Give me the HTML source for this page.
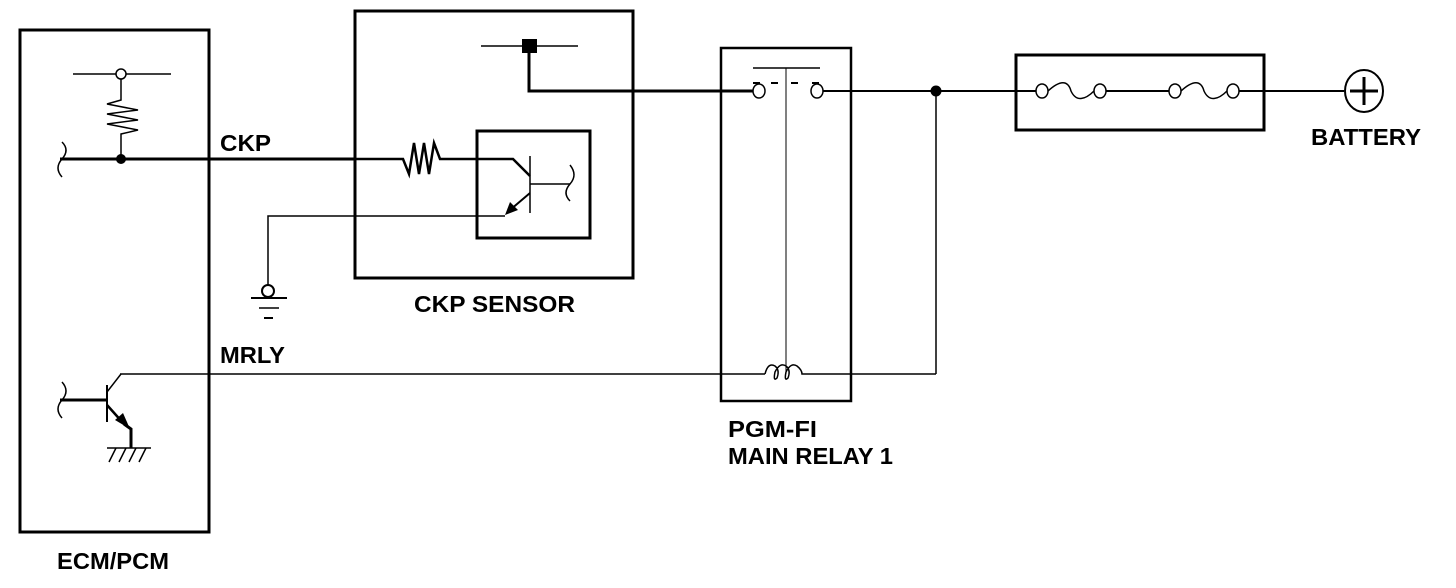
<!DOCTYPE html>
<html><head><meta charset="utf-8"><style>html,body{margin:0;padding:0;background:#fff}svg{display:block}text{font-family:"Liberation Sans",Arial,sans-serif;font-weight:bold;font-size:23px;fill:#000;stroke:none}</style></head>
<body>
<svg width="1456" height="588" viewBox="0 0 1456 588" xmlns="http://www.w3.org/2000/svg" fill="none" stroke="#000">
<!-- ECM box -->
<rect x="20" y="30" width="189" height="502" stroke-width="3"/>
<line x1="73" y1="74" x2="171" y2="74" stroke-width="1.5"/>
<circle cx="121" cy="74" r="5" fill="#fff" stroke-width="1.5"/>
<polyline points="121,79 121,100 107,104 138,110 107,114 138,120 107,124 138,130 121,134 121,159" stroke-width="1.5"/>
<line x1="60" y1="159" x2="355" y2="159" stroke-width="3"/>
<circle cx="121" cy="159" r="5" fill="#000" stroke="none"/>
<path d="M62,142 Q70,150 62,159 Q54,168 62,177" stroke-width="1.5"/>
<text x="220" y="151" textLength="51" lengthAdjust="spacingAndGlyphs">CKP</text>
<!-- ground -->
<polyline points="355,216 268,216 268,285" stroke-width="1.5"/>
<circle cx="268" cy="291" r="6" fill="#fff" stroke-width="2"/>
<line x1="251" y1="298" x2="287" y2="298" stroke-width="2"/>
<line x1="259" y1="308" x2="279" y2="308" stroke-width="1.5"/>
<line x1="264" y1="318" x2="273" y2="318" stroke-width="2"/>
<text x="220" y="363" textLength="65" lengthAdjust="spacingAndGlyphs">MRLY</text>
<!-- ECM transistor -->
<line x1="120" y1="374" x2="765" y2="374" stroke-width="1.5"/>
<line x1="107" y1="385" x2="107" y2="422" stroke-width="2"/>
<line x1="107" y1="392" x2="121" y2="374" stroke-width="1.5"/>
<line x1="60" y1="400" x2="107" y2="400" stroke-width="3"/>
<path d="M62,382 Q70,391 62,400 Q54,409 62,418" stroke-width="1.5"/>
<line x1="107" y1="405" x2="124" y2="424" stroke-width="2.5"/>
<polygon points="130,429 115,420 123,413" fill="#000" stroke="none"/>
<polyline points="124,424 131,429 131,448" stroke-width="3"/>
<line x1="107" y1="448" x2="151" y2="448" stroke-width="1.5"/>
<path d="M116,448 L109,462 M126,448 L119,462 M136,448 L129,462 M146,448 L139,462" stroke-width="1.5"/>
<text x="57" y="569" textLength="112" lengthAdjust="spacingAndGlyphs">ECM/PCM</text>
<!-- CKP sensor -->
<rect x="355" y="11" width="278" height="267" stroke-width="3"/>
<line x1="481" y1="46" x2="578" y2="46" stroke-width="1.5"/>
<rect x="522" y="39" width="15" height="14" fill="#000" stroke="none"/>
<polyline points="529,53 529,91 758,91" stroke-width="3"/>
<polyline points="355,159 403,159 409,174 414,143 419,174 424,143 429,174 434,143 440,159 513,159 530,176" stroke-width="2.5"/>
<rect x="477" y="131" width="113" height="107" stroke-width="3"/>
<line x1="530" y1="156" x2="530" y2="213" stroke-width="1.5"/>
<line x1="530" y1="184" x2="570" y2="184" stroke-width="1.5"/>
<path d="M570,165 Q578,175 570,184 Q562,193 570,201" stroke-width="1.5"/>
<line x1="530" y1="193" x2="510" y2="210" stroke-width="2"/>
<polygon points="505,215 510,202 518,210" fill="#000" stroke="none"/>
<line x1="505" y1="216" x2="355" y2="216" stroke-width="1.5"/>
<text x="414" y="312" textLength="161" lengthAdjust="spacingAndGlyphs">CKP SENSOR</text>
<!-- relay -->
<rect x="721" y="48" width="130" height="353" stroke-width="2.5"/>
<line x1="753" y1="68" x2="820" y2="68" stroke-width="1.5"/>
<line x1="786" y1="68" x2="786" y2="374" stroke-width="1"/>
<path d="M753,83 h7 M771,83 h7 M791,83 h7 M812,83 h7" stroke-width="2"/>
<ellipse cx="759" cy="91" rx="6" ry="7" fill="#fff" stroke-width="1.5"/>
<ellipse cx="817" cy="91" rx="6" ry="7" fill="#fff" stroke-width="1.5"/>
<path d="M765,374 Q768,362 775,366 Q780,370 777,378 Q773,382 775,372 Q780,362 786,366 Q791,370 788,378 Q784,382 786,372 Q791,362 797,366 Q802,370 802,374 L812,374" stroke-width="1.5"/>
<line x1="812" y1="374" x2="936" y2="374" stroke-width="1.5"/>
<line x1="936" y1="91" x2="936" y2="374" stroke-width="1.5"/>
<line x1="823" y1="91" x2="1036" y2="91" stroke-width="2"/>
<circle cx="936" cy="91" r="5.5" fill="#000" stroke="none"/>
<text x="728" y="437" textLength="89" lengthAdjust="spacingAndGlyphs">PGM-FI</text>
<text x="728" y="464" textLength="165" lengthAdjust="spacingAndGlyphs">MAIN RELAY 1</text>
<!-- fuses -->
<rect x="1016" y="55" width="248" height="75" stroke-width="3"/>
<ellipse cx="1042" cy="91" rx="6" ry="7" fill="#fff" stroke-width="1.5"/>
<ellipse cx="1100" cy="91" rx="6" ry="7" fill="#fff" stroke-width="1.5"/>
<path d="M1048,91 C1060,80 1068,80 1071,91 C1076,102 1085,100 1094,91" stroke-width="1.5"/>
<line x1="1106" y1="91" x2="1169" y2="91" stroke-width="2"/>
<ellipse cx="1175" cy="91" rx="6" ry="7" fill="#fff" stroke-width="1.5"/>
<ellipse cx="1233" cy="91" rx="6" ry="7" fill="#fff" stroke-width="1.5"/>
<path d="M1181,91 C1193,80 1201,80 1204,91 C1209,102 1218,100 1227,91" stroke-width="1.5"/>
<line x1="1239" y1="91" x2="1344" y2="91" stroke-width="2"/>
<ellipse cx="1364" cy="91" rx="19" ry="21" stroke-width="2"/>
<path d="M1364,77 V105 M1350,91 H1378" stroke-width="3"/>
<text x="1311" y="145" textLength="110" lengthAdjust="spacingAndGlyphs">BATTERY</text>
</svg>
</body></html>
